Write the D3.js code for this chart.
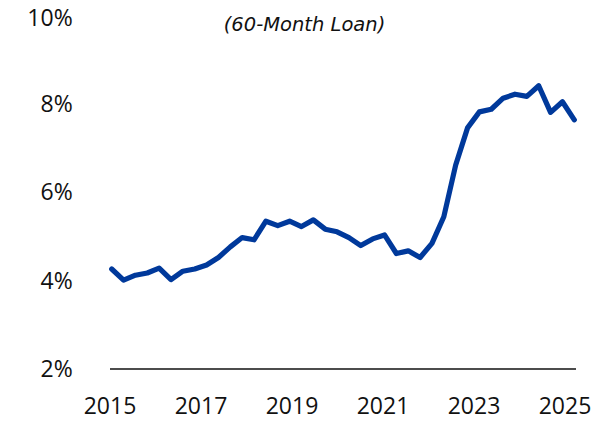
<!DOCTYPE html>
<html>
<head>
<meta charset="utf-8">
<script src="https://cdn.jsdelivr.net/npm/d3@7"></script>
<style>
  html, body { margin: 0; padding: 0; background: #fff; }
  #chart { width: 604px; height: 421px; }
  text { font-family: "Open Sans", "Noto Sans", sans-serif; fill: #111; }
</style>
</head>
<body>
<div id="chart"></div>
<script>
// quarterly auto loan rate, 60-month loan (%)
var quarters = [
  "2015Q1", "2015Q2", "2015Q3", "2015Q4", "2016Q1", "2016Q2", "2016Q3", "2016Q4",
  "2017Q1", "2017Q2", "2017Q3", "2017Q4", "2018Q1", "2018Q2", "2018Q3", "2018Q4",
  "2019Q1", "2019Q2", "2019Q3", "2019Q4", "2020Q1", "2020Q2", "2020Q3", "2020Q4",
  "2021Q1", "2021Q2", "2021Q3", "2021Q4", "2022Q1", "2022Q2", "2022Q3", "2022Q4",
  "2023Q1", "2023Q2", "2023Q3", "2023Q4", "2024Q1", "2024Q2", "2024Q3", "2024Q4"
];
var rates = [
  4.26, 4.01, 4.12, 4.17, 4.28, 4.02, 4.21, 4.26,
  4.35, 4.52, 4.76, 4.97, 4.92, 5.34, 5.24, 5.34,
  5.22, 5.37, 5.16, 5.10, 4.97, 4.79, 4.94, 5.03,
  4.61, 4.67, 4.52, 4.84, 5.44, 6.61, 7.45, 7.81,
  7.87, 8.12, 8.21, 8.16, 8.40, 7.80, 8.04, 7.63
];
var yTicks = [2, 4, 6, 8, 10];
var yearTicks = [2015, 2017, 2019, 2021, 2023, 2025];
var title = "(60-Month Loan)";

var width = 604, height = 421;

var svg = d3.select("#chart").append("svg")
  .attr("width", width)
  .attr("height", height);

var y = d3.scaleLinear().domain([2, 10]).range([369, 15]);
var x = d3.scalePoint().domain(quarters).range([111.7, 574.3]);
var xYear = d3.scaleLinear().domain([2015, 2025]).range([110, 565]);

// title
svg.append("text")
  .attr("x", 304.5)
  .attr("y", 30.5)
  .attr("text-anchor", "middle")
  .style("font-family", "'DejaVu Sans', sans-serif")
  .style("font-style", "italic")
  .style("font-size", "19.5px")
  .text(title);

// y labels (top one kept inside the frame)
svg.append("g")
  .selectAll("text")
  .data(yTicks)
  .join("text")
  .attr("x", 72.7)
  .attr("y", d => Math.max(y(d), 17.5))
  .attr("dy", "0.36em")
  .attr("text-anchor", "end")
  .style("font-size", "23px")
  .text(d => d + "%");

// baseline
svg.append("line")
  .attr("x1", 110)
  .attr("x2", 576)
  .attr("y1", y(2))
  .attr("y2", y(2))
  .attr("stroke", "#111")
  .attr("stroke-width", 1.6);

// x labels
svg.append("g")
  .selectAll("text")
  .data(yearTicks)
  .join("text")
  .attr("x", d => xYear(d))
  .attr("y", 414)
  .attr("text-anchor", "middle")
  .style("font-size", "23px")
  .text(d => d);

// line
var line = d3.line()
  .x((d, i) => x(quarters[i]))
  .y(d => y(d));

svg.append("path")
  .datum(rates)
  .attr("d", line)
  .attr("fill", "none")
  .attr("stroke", "#00399b")
  .attr("stroke-width", 5.2)
  .attr("stroke-linejoin", "round")
  .attr("stroke-linecap", "round");
</script>
</body>
</html>
